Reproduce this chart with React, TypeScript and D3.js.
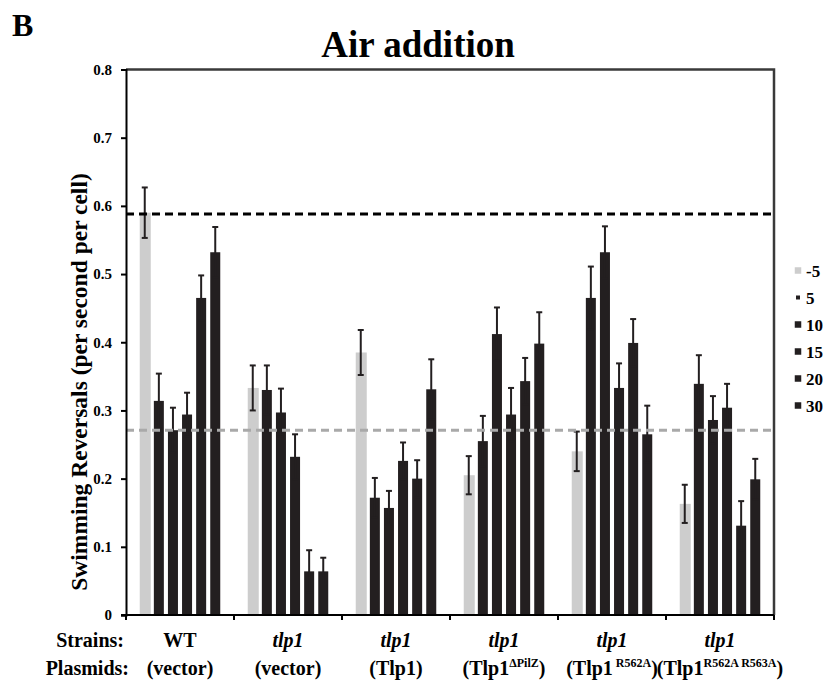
import React, { useEffect, useRef } from 'react';
import * as d3 from 'd3';

// chart values
const strains = ['WT', 'tlp1', 'tlp1', 'tlp1', 'tlp1', 'tlp1'];
const plasmids = ['vector', 'vector', 'Tlp1', 'Tlp1', 'Tlp1', 'Tlp1'];
const plasmidSup = ['', '', '', 'ΔPilZ', ' R562A', 'R562A R563A'];
const series = ['-5', '5', '10', '15', '20', '30'];
const seriesColors = ['#cdcdcd', '#231f20', '#231f20', '#231f20', '#231f20', '#231f20'];

const means = [
  [0.59, 0.333, 0.385, 0.205, 0.24, 0.163],
  [0.314, 0.33, 0.172, 0.255, 0.465, 0.339],
  [0.271, 0.297, 0.157, 0.412, 0.532, 0.286],
  [0.294, 0.232, 0.226, 0.294, 0.333, 0.304],
  [0.465, 0.064, 0.2, 0.343, 0.399, 0.131],
  [0.532, 0.064, 0.331, 0.398, 0.265, 0.199],
];
const errors = [
  [0.037, 0.033, 0.033, 0.028, 0.029, 0.028],
  [0.04, 0.036, 0.029, 0.037, 0.046, 0.042],
  [0.033, 0.035, 0.025, 0.039, 0.038, 0.035],
  [0.032, 0.033, 0.027, 0.039, 0.036, 0.035],
  [0.033, 0.031, 0.027, 0.034, 0.035, 0.036],
  [0.037, 0.02, 0.044, 0.046, 0.042, 0.03],
];
const refLines = [
  { value: 0.588, color: '#000000' },
  { value: 0.271, color: '#a9a9a9' },
];
const yTicks = [0, 0.1, 0.2, 0.3, 0.4, 0.5, 0.6, 0.7, 0.8];

const FONT = 'Liberation Serif, DejaVu Serif, serif';

const App = () => {
  const ref = useRef<SVGSVGElement>(null);

  useEffect(() => {
    const svg = d3.select(ref.current);
    svg.selectAll('*').remove();

    const width = 825;
    const height = 682;
    const left = 126, right = 774, top = 69.5, bottom = 615;

    const x0 = d3.scaleBand<number>()
      .domain(d3.range(strains.length))
      .range([left, right])
      .padding(0);

    const x1 = d3.scaleBand<string>()
      .domain(series)
      .range([0, x0.bandwidth()])
      .paddingInner(0.29)
      .paddingOuter(0.975);

    const y = d3.scaleLinear().domain([0, 0.8]).range([bottom, top]);

    svg.attr('width', width).attr('height', height);

    // bars
    const bars = svg.append('g');
    series.forEach((s, si) => {
      means[si].forEach((v, gi) => {
        bars.append('rect')
          .attr('x', x0(gi)! + x1(s)!)
          .attr('y', y(v))
          .attr('width', x1.bandwidth() + (si === 0 ? 1 : 0))
          .attr('height', y(0) - y(v))
          .attr('fill', seriesColors[si]);
      });
    });

    // error bars
    const err = svg.append('g').attr('stroke', '#231f20').attr('stroke-width', 2);
    series.forEach((s, si) => {
      means[si].forEach((v, gi) => {
        const cx = x0(gi)! + x1(s)! + x1.bandwidth() / 2;
        const e = errors[si][gi];
        err.append('line').attr('x1', cx).attr('x2', cx).attr('y1', y(v - e)).attr('y2', y(v + e));
        err.append('line').attr('x1', cx - 3).attr('x2', cx + 3).attr('y1', y(v + e)).attr('y2', y(v + e));
        err.append('line').attr('x1', cx - 3).attr('x2', cx + 3).attr('y1', y(v - e)).attr('y2', y(v - e));
      });
    });

    // reference lines
    refLines.forEach(r => {
      svg.append('line')
        .attr('x1', left).attr('x2', right)
        .attr('y1', y(r.value)).attr('y2', y(r.value))
        .attr('stroke', r.color)
        .attr('stroke-width', 3)
        .attr('stroke-dasharray', '8,5');
    });

    // frame top / right
    svg.append('path')
      .attr('d', `M${left},${top}H${right}V${bottom}`)
      .attr('fill', 'none')
      .attr('stroke', '#3a3a3a')
      .attr('stroke-width', 2.5);

    // y axis
    const yAxis = svg.append('g')
      .attr('transform', `translate(${left},0)`)
      .call(d3.axisLeft(y).tickValues(yTicks).tickSize(5).tickPadding(9)
        .tickFormat(d => (d === 0 ? '0' : d3.format('.1f')(d as number))));
    yAxis.attr('font-family', FONT).attr('font-size', 15).attr('font-weight', 'bold');
    yAxis.select('.domain').attr('stroke', '#000').attr('stroke-width', 2);
    yAxis.selectAll('.tick line').attr('stroke', '#000').attr('stroke-width', 2);
    yAxis.selectAll('.tick text').attr('fill', '#000');

    // x axis with ticks at the group borders
    const xAxis = svg.append('g').attr('transform', `translate(0,${bottom})`);
    xAxis.append('line')
      .attr('x1', left - 5).attr('x2', right)
      .attr('stroke', '#000').attr('stroke-width', 2);
    d3.range(strains.length + 1).forEach(i => {
      const xx = i < strains.length ? x0(i)! : right;
      xAxis.append('line').attr('x1', xx).attr('x2', xx).attr('y1', 0).attr('y2', 5)
        .attr('stroke', '#000').attr('stroke-width', 2);
    });

    const txt = (g: any) => g.attr('font-family', FONT).attr('font-weight', 'bold').attr('fill', '#000');

    // group labels
    const lab = svg.append('g').call(txt).attr('font-size', 20);
    lab.append('text').attr('x', 124).attr('y', 647).attr('text-anchor', 'end').text('Strains:');
    lab.append('text').attr('x', 129).attr('y', 675).attr('text-anchor', 'end').text('Plasmids:');
    strains.forEach((s, gi) => {
      const cx = x0(gi)! + x0.bandwidth() / 2;
      lab.append('text')
        .attr('x', cx).attr('y', 647)
        .attr('text-anchor', 'middle')
        .attr('font-style', s === 'WT' ? 'normal' : 'italic')
        .text(s);
      const t = lab.append('text').attr('x', cx).attr('y', 675).attr('text-anchor', 'middle');
      t.append('tspan').text(`(${plasmids[gi]}`);
      if (plasmidSup[gi]) {
        t.append('tspan').attr('dy', -8).attr('font-size', 12).text(plasmidSup[gi]);
        t.append('tspan').attr('dy', 8).text(')');
      } else {
        t.append('tspan').text(')');
      }
    });

    // y label
    svg.append('text').call(txt)
      .attr('transform', `translate(87,382) rotate(-90)`)
      .attr('text-anchor', 'middle')
      .attr('font-size', 23.5)
      .text('Swimming Reversals (per second per cell)');

    // title and panel letter
    svg.append('text').call(txt)
      .attr('x', 418).attr('y', 57)
      .attr('text-anchor', 'middle')
      .attr('font-size', 37)
      .text('Air addition');
    svg.append('text').call(txt)
      .attr('x', 12).attr('y', 36)
      .attr('font-size', 32)
      .text('B');

    // legend
    const leg = svg.append('g');
    series.forEach((s, si) => {
      const cy = 270.5 + si * 27;
      const sz = si === 1 ? 4 : 6.5;
      leg.append('rect')
        .attr('x', 798 - sz / 2).attr('y', cy - sz / 2)
        .attr('width', sz).attr('height', sz)
        .attr('fill', seriesColors[si]);
      leg.append('text').call(txt)
        .attr('x', 806).attr('y', cy + 6)
        .attr('font-size', 17)
        .text(s);
    });
  }, []);

  return (
    <svg ref={ref} style={{ position: 'absolute', left: 0, top: 0, background: '#fff' }}></svg>
  );
};

export default App;
